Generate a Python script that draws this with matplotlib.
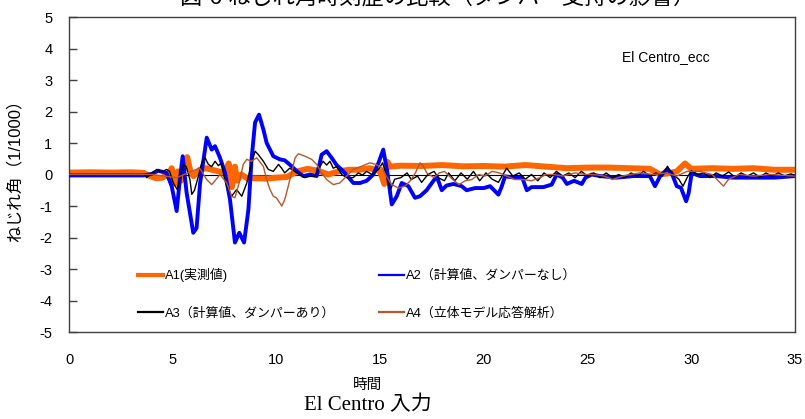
import matplotlib
matplotlib.use("Agg")
import matplotlib.pyplot as plt

plt.rcParams['font.family'] = ['Liberation Sans', 'Noto Sans CJK JP', 'DejaVu Sans']
plt.rcParams['axes.unicode_minus'] = False

# ---------------- data ----------------
a1_t = [0, 1, 2, 3, 3.6, 3.9, 4.2, 4.5, 4.8, 4.95, 5.1, 5.25, 5.4, 5.55, 5.7, 5.85,
        6.0, 6.3, 6.6, 6.9, 7.2, 7.5, 7.7, 7.85, 8.0, 8.1, 8.3, 8.6, 9.0, 9.5, 10.0,
        10.5, 11.0, 11.5, 12.0, 12.5, 13.0, 13.5, 14.0, 14.5, 15.0, 15.2, 15.35, 15.5,
        16, 17, 18, 19, 20, 21, 22, 23, 24, 25, 26, 27, 28, 28.5, 29, 29.3, 29.7, 30,
        31, 32, 33, 34, 35]
a1_v = [0.06, 0.07, 0.06, 0.07, 0.05, -0.05, -0.12, -0.1, 0.0, 0.2, -0.3, 0.1, -0.2, 0.3, 0.55, 0.1,
        -0.05, 0.15, 0.2, 0.15, 0.1, 0.05, 0.35, -0.4, 0.25, -0.2, 0.0, -0.12, -0.12, -0.13, -0.1,
        -0.08, 0.1, 0.18, 0.12, 0.0, 0.1, 0.15, 0.15, 0.2, 0.1, -0.3, 0.4, 0.25,
        0.28, 0.27, 0.3, 0.26, 0.27, 0.25, 0.3, 0.25, 0.2, 0.22, 0.22, 0.2, 0.18, 0.0, 0.05, 0.1, 0.35, 0.18,
        0.2, 0.18, 0.2, 0.15, 0.15]

a2_t = [0, 3.6, 4.0, 4.3, 4.7, 4.95, 5.19, 5.35, 5.48, 5.67, 5.99, 6.15, 6.32, 6.64, 6.88,
        7.04, 7.28, 7.52, 7.76, 8.0, 8.21, 8.44, 8.65, 8.8, 8.97, 9.16, 9.37, 9.53, 9.85,
        10.17, 10.4, 10.74, 10.98, 11.3, 11.62, 11.94, 12.18, 12.42, 12.66, 12.9, 13.23,
        13.71, 14.03, 14.35, 14.67, 14.92, 15.15, 15.35, 15.56, 15.8, 16.04, 16.36, 16.68,
        16.92, 17.24, 17.57, 17.73, 17.97, 18.2, 18.53, 18.93, 19.17, 19.58, 20.0, 20.3,
        20.54, 20.7, 20.85, 21.02, 21.5, 21.85, 22.07, 22.3, 22.87, 23.27, 23.51, 23.8,
        24.0, 24.35, 24.72, 24.9, 25.2, 25.6, 26.4, 27.2, 28.0, 28.25, 28.5, 28.82, 29.05,
        29.3, 29.5, 29.75, 29.87, 30.02, 30.42, 31.2, 32.0, 33.0, 34.0, 35.0]
a2_v = [-0.03, -0.03, 0.02, 0.12, 0.05, -0.37, -1.16, -0.12, 0.58, -0.58, -1.85, -1.7, -0.27, 1.17, 0.79,
        0.9, 0.53, 0.06, -0.79, -2.16, -1.85, -2.16, -1.11, 0.48, 1.65, 1.9, 1.43, 1.0, 0.58,
        0.48, 0.45, 0.26, 0.1, -0.05, 0.0, -0.05, 0.63, 0.74, 0.53, 0.3, 0.1,
        -0.27, -0.27, -0.2, 0.0, 0.37, 0.79, 0.06, -0.95, -0.69, -0.27, -0.37, -0.74,
        -0.69, -0.5, -0.2, -0.06, -0.5, -0.35, -0.3, -0.37, -0.5, -0.43, -0.43, -0.37,
        -0.53, -0.64, -0.4, -0.06, -0.1, -0.1, -0.5, -0.4, -0.4, -0.32, 0.0, -0.1,
        -0.3, -0.2, -0.3, -0.1, 0.0, -0.05, -0.1, -0.05, -0.05, -0.37, -0.05, 0.16, 0.05,
        -0.37, -0.42, -0.85, -0.6, 0.05, -0.05, -0.05, -0.1, -0.1, -0.1, -0.05]

a3_t = [0, 3.66, 3.74, 4.0, 4.23, 4.45, 4.71, 4.85, 5.03, 5.22, 5.35, 5.51, 5.65, 5.83, 5.92,
        6.05, 6.24, 6.4, 6.56, 6.72, 6.88, 7.04, 7.2, 7.35, 7.47, 7.6, 7.84, 8.08, 8.33, 8.57,
        8.81, 8.97, 9.13, 9.37, 9.61, 9.85, 10.1, 10.25, 10.4, 10.64, 10.88, 11.12, 11.36,
        11.6, 11.85, 12.1, 12.25, 12.42, 12.58, 12.74, 12.9, 13.15, 13.39, 13.7, 13.95,
        14.15, 14.35, 14.6, 14.92, 15.12, 15.31, 15.5, 15.7, 16.0, 16.3, 16.5, 16.8, 17.0,
        17.3, 17.6, 17.8, 18.1, 18.3, 18.6, 18.9, 19.2, 19.5, 19.8, 20.1, 20.4, 20.7, 21.1,
        21.4, 21.7, 22.0, 22.3, 22.6, 22.9, 23.2, 23.5, 23.8, 24.1, 24.4, 24.7, 25.0, 25.3,
        25.6, 25.9, 26.2, 26.5, 26.8, 27.1, 27.4, 27.7, 28.0, 28.3, 28.6, 28.85, 29.1, 29.4,
        29.6, 29.8, 30.0, 30.3, 30.6, 30.9, 31.2, 31.5, 31.8, 32.1, 32.4, 32.7, 33.0, 33.3,
        33.6, 33.9, 34.2, 34.5, 34.8, 35.0]
a3_v = [0.0, 0.0, -0.1, 0.05, 0.16, 0.08, 0.16, 0.1, -0.27, -0.48, -0.1, 0.32, 0.25, -0.16, -0.63,
        -0.5, -0.05, 0.37, 0.53, 0.32, 0.25, 0.42, 0.28, 0.37, -0.05, -0.37, -0.69, -0.48, -0.69, -0.27,
        0.37, 0.74, 0.63, 0.42, 0.16, 0.1, 0.32, 0.2, 0.05, 0.2, 0.1, 0.0, -0.1,
        -0.06, -0.06, 0.26, 0.42, 0.3, 0.42, 0.2, 0.25, 0.0, -0.1, -0.1, 0.05,
        -0.02, 0.1, 0.0, 0.16, 0.37, -0.05, -0.48, -0.15, -0.1, 0.05, -0.16, -0.05, -0.25,
        0.0, 0.1, -0.1, -0.2, 0.05, -0.2, 0.05, -0.15, 0.1, -0.2, 0.05, -0.15, -0.25, 0.2,
        -0.05, 0.05, -0.15, 0.0, -0.2, 0.05, -0.1, 0.1, -0.05, 0.05, -0.1, 0.1, -0.05, 0.05,
        -0.1, 0.05, -0.1, 0.0, -0.1, 0.05, -0.05, 0.1, -0.05, 0.05, -0.05, 0.26, 0.0, -0.15,
        -0.37, -0.1, 0.12, 0.0, 0.05, -0.1, 0.05, -0.05, 0.08, -0.08, 0.05, -0.05, 0.05, -0.08,
        0.05, -0.05, 0.05, -0.05, 0.02, -0.03]

a4_t = [0, 4.0, 4.6, 5.2, 5.9, 6.3, 6.64, 6.88, 7.04, 7.28, 7.6, 7.84, 8.0, 8.2, 8.4, 8.57,
        8.8, 9.05, 9.2, 9.37, 9.53, 9.69, 9.85, 10.0, 10.26, 10.4, 10.57, 10.73, 10.9, 11.06,
        11.38, 11.7, 11.94, 12.18, 12.42, 12.74, 13.05, 13.39, 13.7, 14.1, 14.5, 14.8, 15.1,
        15.3, 15.56, 15.88, 16.2, 16.45, 16.7, 16.92, 17.05, 17.25, 17.6, 17.85, 18.1, 18.5,
        18.8, 19.1, 19.42, 19.75, 20.05, 20.4, 20.75, 21.1, 21.5, 21.9, 22.3, 22.7, 23.0,
        23.4, 23.8, 24.4, 24.9, 25.3, 25.8, 26.2, 26.7, 27.5, 28.2, 28.8, 29.3, 29.8, 30.4,
        31.0, 31.3, 31.55, 31.8, 32.3, 33.0, 33.8, 34.5, 35.0]
a4_v = [0.0, 0.0, -0.05, -0.1, 0.1, 0.2, -0.16, -0.32, -0.2, 0.0, -0.27, -0.69, -0.74, -0.27, 0.32, 0.48,
        0.42, 0.53, 0.4, 0.26, -0.16, -0.48, -0.69, -0.74, -1.0, -0.8, -0.37, 0.05, 0.53, 0.66,
        0.58, 0.48, 0.32, 0.05, -0.16, -0.32, -0.27, -0.05, 0.16, 0.26, 0.37, 0.32, 0.2,
        -0.05, -0.32, -0.43, -0.37, -0.2, 0.05, 0.37, 0.3, 0.05, -0.1, 0.05, 0.1, -0.16,
        -0.32, -0.2, -0.16, 0.0, -0.05, 0.1, 0.05, -0.05, -0.16, -0.16, -0.2, -0.1, 0.0,
        0.0, -0.05, 0.05, 0.0, 0.0, -0.05, -0.16, -0.05, 0.05, 0.0, 0.05, -0.05, 0.1, 0.1,
        0.0, -0.2, -0.37, -0.15, 0.0, -0.05, 0.0, -0.03, -0.05]

labels = ['A1(実測値)', 'A2（計算値、ダンパーなし）', 'A3（計算値、ダンパーあり）', 'A4（立体モデル応答解析）']
colors = ['#ff6600', '#0000ff', '#000000', '#b5582a']
x_ticks = [0, 5, 10, 15, 20, 25, 30, 35]
y_ticks = [-5, -4, -3, -2, -1, 0, 1, 2, 3, 4, 5]

# ---------------- figure ----------------
fig = plt.figure(figsize=(8.05, 4.19), dpi=100)
ax = fig.add_axes([69/805, 1-332/419, (795-69)/805, (332-17)/419])

ax.axhline(0, color='black', lw=0.8, zorder=1)
l1, = ax.plot(a1_t, a1_v, color=colors[0], lw=4.3, zorder=2, label=labels[0])
l2, = ax.plot(a2_t, a2_v, color=colors[1], lw=2.8, zorder=3, label=labels[1])
l3, = ax.plot(a3_t, a3_v, color=colors[2], lw=1.0, zorder=4, label=labels[2])
l4, = ax.plot(a4_t, a4_v, color=colors[3], lw=1.0, zorder=4, label=labels[3])

ax.set_xlim(0, 35)
ax.set_ylim(-5, 5)
ax.set_xticks(x_ticks)
ax.set_yticks(y_ticks)
ax.tick_params(axis='x', length=0, pad=15, labelsize=10.5)
ax.tick_params(axis='y', direction='in', length=6, pad=12, labelsize=10.5, width=1, color='#404040')
for s in ax.spines.values():
    s.set_color('#404040')
    s.set_linewidth(1.0)

# column-wise fill -> rows: A1 A2 / A3 A4
leg = ax.legend(handles=[l1, l3, l2, l4], ncol=2, loc='upper left',
                bbox_to_anchor=((138-69)/726, 1-(268-17)/315), frameon=False,
                fontsize=9.3, handlelength=1.9, handletextpad=0.2,
                columnspacing=3.4, labelspacing=1.95, borderpad=0, borderaxespad=0)
for lh in leg.get_lines():
    lh.set_linewidth(1.6)
leg.get_lines()[0].set_linewidth(3.0)

ax.text((666-69)/726, 1-(57-17)/315, 'El Centro_ecc', transform=ax.transAxes,
        ha='center', va='center', fontsize=10)

fig.text(15/805, 1-167/419, 'ねじれ角（1/1000）', rotation=90, ha='center', va='center', fontsize=12)
fig.text(368/805, 1-385/419, '時間', ha='center', va='center', fontsize=10.5)
fig.text(368/805, 1-405/419, 'El Centro 入力', ha='center', va='center', fontsize=15,
         family=['Liberation Serif', 'Noto Sans CJK JP'])
fig.text(438/805, 1-4/419, '図-6 ねじれ角時刻歴の比較（ダンパー支持の影響）', ha='center',
         va='baseline', fontsize=16)

fig.savefig('out.png', dpi=100)
